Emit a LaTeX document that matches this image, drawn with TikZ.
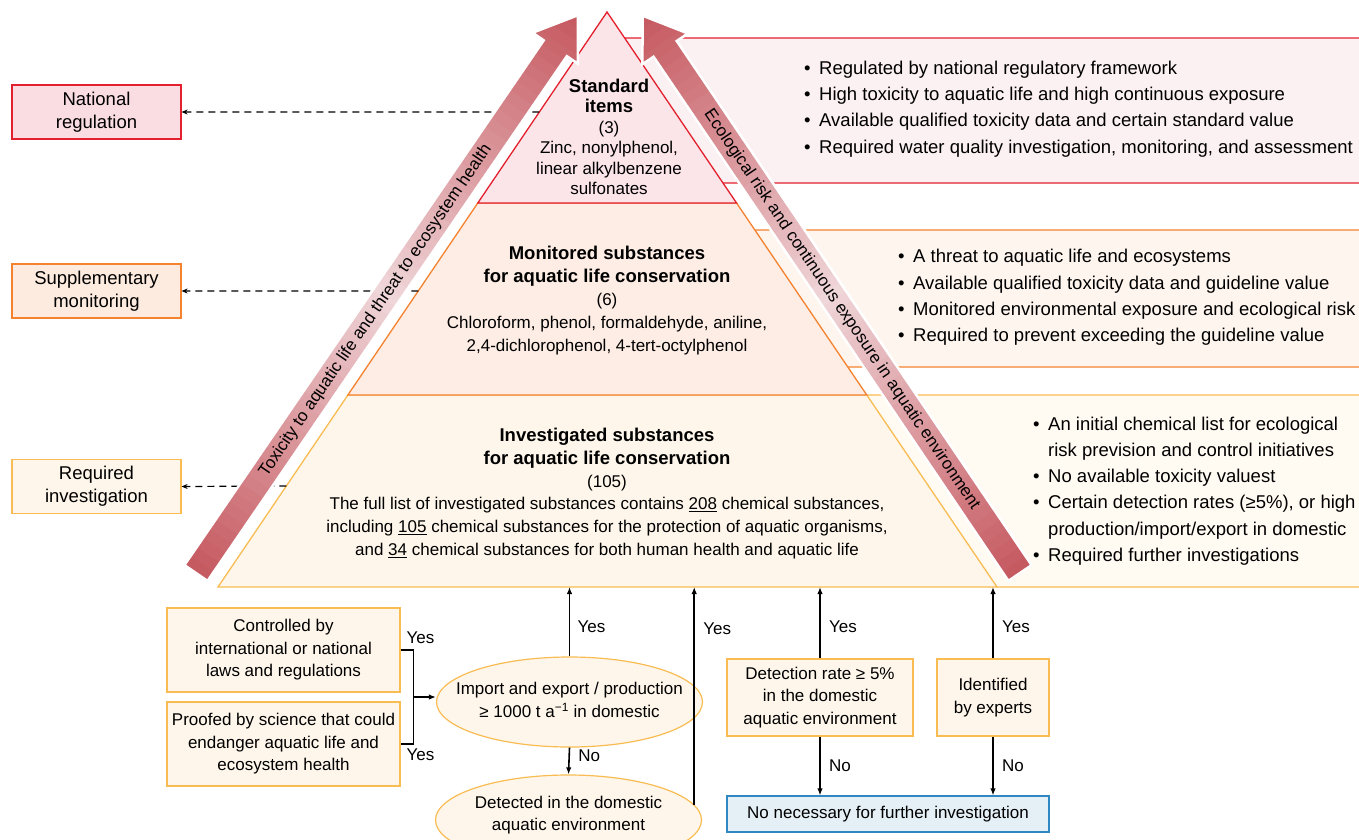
\documentclass[tikz,border=0pt]{standalone}
\usepackage{fontspec}
\setmainfont{Liberation Sans}
\usetikzlibrary{shapes.geometric,arrows.meta,calc}
\definecolor{stdline}{HTML}{E3202D}
\definecolor{stdfill}{HTML}{FBE5E9}
\definecolor{natfill}{HTML}{FADDE2}
\definecolor{p1fill}{HTML}{FBF0F2}
\definecolor{monline}{HTML}{F4822F}
\definecolor{monfill}{HTML}{FDEDE4}
\definecolor{supfill}{HTML}{FDEBDF}
\definecolor{p2fill}{HTML}{FEF5EF}
\definecolor{invline}{HTML}{F8BC52}
\definecolor{invfill}{HTML}{FEF6EA}
\definecolor{p3fill}{HTML}{FFFAF2}
\definecolor{nofill}{HTML}{E4F0F6}
\definecolor{noline}{HTML}{2F87C4}
\definecolor{arrowdark}{HTML}{C65A61}
\definecolor{arrowlight}{HTML}{EFD6D9}
\newcommand\itm{\makebox[15pt][l]{•}}
\newcommand\ttl[1]{{\fontsize{18.5}{20}\selectfont\bfseries #1}}
\newcommand\shadedarrow[3]{%
  \begin{scope}[shift={#1},rotate=#2,x=1pt,y=1pt]
    \begin{scope}
      \clip (0,-14) -- (#3-40,-14) -- (#3-40,-27.5) -- (#3,0) -- (#3-40,27.5) -- (#3-40,14) -- (0,14) -- cycle;
      \foreach \i in {0,...,60}{\pgfmathsetmacro\m{100*abs(2*\i/60-1)}
        \fill[arrowdark!\m!arrowlight] ({\i/61*#3},-30) rectangle ({(\i+1.3)/61*#3},30);}
    \end{scope}
    \draw[white,line width=2.5pt,line join=miter] (0,-14) -- (#3-40,-14) -- (#3-40,-27.5) -- (#3,0) -- (#3-40,27.5) -- (#3-40,14) -- (0,14) -- cycle;
  \end{scope}}
\tikzset{
  sidebox/.style={draw,line width=1.2pt,minimum width=169pt,minimum height=54pt,align=center,inner sep=0pt,font=\fontsize{18.5}{23}\selectfont},
  flowbox/.style={draw=invline,fill=invfill,line width=1.2pt,align=center,inner sep=0pt},
  flowell/.style={ellipse,draw=invline,fill=invfill,line width=1.2pt,inner sep=0pt,minimum width=266pt,minimum height=90pt},
  flow/.style={-{Latex[length=7pt,width=5.5pt]},line width=1.6pt},
  dashlink/.style={-{Stealth[length=6pt,width=5pt]},line width=1.2pt,dash pattern=on 7pt off 5pt},
  bullets/.style={anchor=west,align=left,inner sep=0pt,font=\fontsize{18.5}{26.3}\selectfont}
}
\begin{document}
\begin{tikzpicture}[x=1pt,y=-1pt,font=\fontsize{17}{22.5}\selectfont]
\useasboundingbox (0,0) rectangle (1359,839);
\coordinate (apex) at (607,12);
\coordinate (bl) at (218,587);
\coordinate (br) at (997,587);
\coordinate (base) at (0,587);
\coordinate (l1) at ($(apex)!0.3322!(bl)$);
\coordinate (r1) at ($(apex)!0.3322!(br)$);
\coordinate (l2) at ($(apex)!0.6661!(bl)$);
\coordinate (r2) at ($(apex)!0.6661!(br)$);
\coordinate (p1t) at ($(apex)!0.0452!(br)$);
\coordinate (p1b) at ($(apex)!0.2974!(br)$);
\coordinate (p2t) at ($(apex)!0.3791!(br)$);
\coordinate (p2b) at ($(apex)!0.6174!(br)$);

\fill[p1fill] (p1t) -- (1365,38) -- (1365,183) -- (p1b) -- cycle;
\draw[stdline,line width=1.3pt] (p1t) -- (1365,38) (p1b) -- (1365,183);
\fill[p2fill] (p2t) -- (1365,230) -- (1365,367) -- (p2b) -- cycle;
\draw[monline,line width=1.3pt] (p2t) -- (1365,230) (p2b) -- (1365,367);
\fill[p3fill] (r2) -- (1365,395) -- (1365,587) -- (br) -- cycle;
\draw[invline,line width=1.3pt] (r2) -- (1365,395) (br) -- (1365,587);

\filldraw[fill=invfill,draw=invline,line width=1.3pt] (l2) -- (r2) -- (br) -- (bl) -- cycle;
\filldraw[fill=monfill,draw=monline,line width=1.3pt] (l1) -- (r1) -- (r2) -- (l2) -- cycle;
\filldraw[fill=stdfill,draw=stdline,line width=1.3pt] (apex) -- (r1) -- (l1) -- cycle;

\node[align=center,font=\fontsize{17}{20.5}\selectfont] (std) at (609,137) {\ttl{Standard}\\\ttl{items}\\(3)\\Zinc, nonylphenol,\\linear alkylbenzene\\sulfonates};
\node[align=center,font=\fontsize{17}{23}\selectfont] (mon) at (607,301) {\ttl{Monitored substances}\\\ttl{for aquatic life conservation}\\(6)\\Chloroform, phenol, formaldehyde, aniline,\\2,4-dichlorophenol, 4-tert-octylphenol};
\node[align=center,font=\fontsize{17}{22.8}\selectfont] (inv) at (607,493.5) {\ttl{Investigated substances}\\\ttl{for aquatic life conservation}\\(105)\\The full list of investigated substances contains \underline{208} chemical substances,\\including \underline{105} chemical substances for the protection of aquatic organisms,\\and \underline{34} chemical substances for both human health and aquatic life};

\node[sidebox,draw=stdline,fill=natfill] (nat) at (96.5,112) {National\\regulation};
\node[sidebox,draw=monline,fill=supfill] (sup) at (96.5,291) {Supplementary\\monitoring};
\node[sidebox,draw=invline,fill=invfill] (req) at (96.5,486.5) {Required\\investigation};
\draw[dashlink] ($(apex)!0.1739!(bl)$) -- (nat.east);
\draw[dashlink] ($(apex)!0.4852!(bl)$) -- (sup.east);
\draw[dashlink] ($(apex)!0.8243!(bl)$) -- (req.east);

\shadedarrow{(196,573)}{55.6}{676}
\shadedarrow{(1020,573)}{124.1}{673}
\node[rotate=55.6,inner sep=0pt] (toxtext) at (375.7,310.6) {Toxicity to aquatic life and threat to ecosystem health};
\node[rotate=-55.9,inner sep=0pt] (ecotext) at (841.7,309.7) {Ecological risk and continuous exposure in aquatic environment};

\node[bullets] (b1) at (804,109) {\itm Regulated by national regulatory framework\\\itm High toxicity to aquatic life and high continuous exposure\\\itm Available qualified toxicity data and certain standard value\\\itm Required water quality investigation, monitoring, and assessment};
\node[bullets] (b2) at (898,297.5) {\itm A threat to aquatic life and ecosystems\\\itm Available qualified toxicity data and guideline value\\\itm Monitored environmental exposure and ecological risk\\\itm Required to prevent exceeding the guideline value};
\node[bullets] (b3) at (1033,491) {\itm An initial chemical list for ecological\\\hspace*{15pt}risk prevision and control initiatives\\\itm No available toxicity valuest\\\itm Certain detection rates (≥5\%), or high\\\hspace*{15pt}production/import/export in domestic\\\itm Required further investigations};

\node[flowbox,minimum width=233pt,minimum height=84pt] (ctrl) at (283.5,650) {Controlled by\\international or national\\laws and regulations};
\node[flowbox,minimum width=233pt,minimum height=84pt] (proof) at (283.5,744) {Proofed by science that could\\endanger aquatic life and\\ecosystem health};
\node[flowell] (imp) at (569.5,702) {};
\node[align=center] (imptext) at (569.5,700) {Import and export / production\\≥ 1000 t a\textsuperscript{−1} in domestic};
\node[flowell] (det) at (568.5,820) {};
\node[align=center] (dettext) at (568.5,815) {Detected in the domestic\\aquatic environment};
\node[flowbox,minimum width=186pt,minimum height=77pt] (rate) at (820,697.5) {Detection rate ≥ 5\%\\in the domestic\\aquatic environment};
\node[flowbox,minimum width=112pt,minimum height=77pt] (expt) at (993,697.5) {Identified\\by experts};
\node[flowbox,draw=noline,fill=nofill,minimum width=322pt,minimum height=36pt] (nonec) at (888,814) {No necessary for further investigation};

\draw[line width=1.2pt] (ctrl.east) -- ++(13,0) |- (proof.east);
\coordinate (jn) at (413,697);
\draw[flow] (jn) -- (jn -| imp.west);
\node[anchor=west] (yes1) at (403,638) {Yes};
\node[anchor=west] (yes2) at (403,755) {Yes};
\draw[flow] (imp.north) -- (imp.north |- base) node[pos=0.43,right=4pt] {Yes};
\draw[flow] (imp.south) -- (det.north) node[pos=0.3,right=5pt] {No};
\draw[flow] (det.7.5) -- (det.7.5 |- base) node[pos=0.81,right=5pt] {Yes};
\draw[flow] (rate.north) -- (rate.north |- base) node[pos=0.45,right=5pt] {Yes};
\draw[flow] (rate.south) -- (rate.south |- nonec.north) node[pos=0.5,right=5pt] {No};
\draw[flow] (expt.north) -- (expt.north |- base) node[pos=0.45,right=5pt] {Yes};
\draw[flow] (expt.south) -- (expt.south |- nonec.north) node[pos=0.5,right=5pt] {No};
\end{tikzpicture}
\end{document}
